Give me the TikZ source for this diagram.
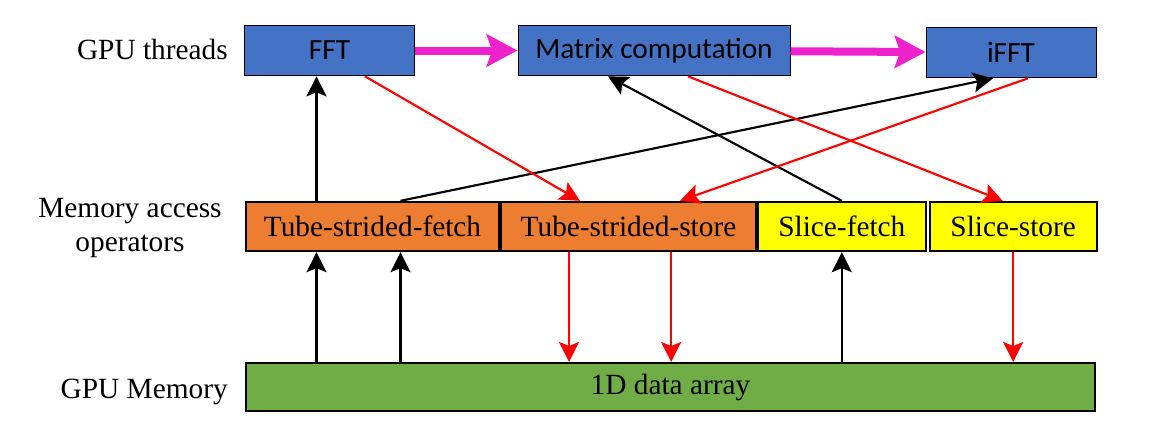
\documentclass[tikz,border=0pt]{standalone}
\usepackage{fontspec}
\setmainfont{Liberation Serif}
\newfontfamily\calibri{Carlito}
\usepackage{xcolor}
\usetikzlibrary{arrows.meta, positioning, calc}
\definecolor{thrblue}{HTML}{4472C4}
\definecolor{opsorange}{HTML}{ED7D31}
\definecolor{opsyellow}{HTML}{FFFF00}
\definecolor{memgreen}{HTML}{70AD47}
\definecolor{flowpink}{HTML}{EE22CC}

\begin{document}
\begin{tikzpicture}[x=0.75pt, y=-0.75pt,
    >={Stealth[length=15pt,width=15pt,inset=3pt]},
    thread/.style={draw, fill=thrblue, line width=0.75pt, minimum height=38pt, inner sep=0pt, font=\calibri\fontsize{22}{26}\selectfont},
    op/.style={draw, line width=1.5pt, minimum height=37pt, inner sep=0pt, font=\fontsize{22}{26}\selectfont},
    lbl/.style={inner sep=0pt, font=\fontsize{22}{26}\selectfont},
    fetch/.style={->, line width=1.6pt},
    store/.style={->, red, line width=1.6pt},
    flow/.style={-{Stealth[length=23pt,width=24pt,inset=4pt]}, flowpink, line width=6pt}]
    \useasboundingbox (0,0) rectangle (1158,439);
    \node[lbl, anchor=base east] (lthr) at (228,59) {GPU threads};
    \node[lbl, align=center] (lops) at (130,228) {Memory access\\operators};
    \node[lbl, anchor=base east] (lmem) at (228,398) {GPU Memory};
    \node[thread, minimum width=127pt] (fft) at (329.5,50.5) {FFT};
    \node[thread, minimum width=204pt] (mat) at (654,50.5) {Matrix computation};
    \node[thread, minimum width=127.5pt] (ifft) at (1011,52.5) {iFFT};
    \node[op, fill=opsorange, minimum width=190pt] (tsf) at (372.5,226.5) {Tube-strided-fetch};
    \node[op, fill=opsorange, minimum width=191pt, right=0pt of tsf] (tss) {Tube-strided-store};
    \node[op, fill=opsyellow, minimum width=126pt, right=0pt of tss] (sf) {Slice-fetch};
    \node[op, fill=opsyellow, minimum width=125pt, right=1.5pt of sf] (ss) {Slice-store};
    \node[op, fill=memgreen, minimum width=637pt, minimum height=36pt] (mem) at (670.5,387) {1D data array};
    \draw[flow] (fft) -- (mat);
    \draw[flow] (mat) -- (ifft);
    \draw[fetch] ([xshift=-42pt]tsf.north) -- ([xshift=-42pt]tsf.north |- fft.south);
    \draw[fetch] ([xshift=21pt]tsf.north) -- ([xshift=-13.5pt]ifft.south);
    \draw[fetch] (sf.north) -- ([xshift=-34.5pt]mat.south);
    \draw[store] ([xshift=26.6pt]fft.south) -- ([xshift=-36.4pt]tss.north);
    \draw[store] ([xshift=25.5pt]mat.south) -- ([xshift=-7.9pt]ss.north);
    \draw[store] ([xshift=12.75pt]ifft.south) -- ([xshift=38.6pt]tss.north);
    \draw[fetch] ([xshift=-42pt]tsf.south |- mem.north) -- ([xshift=-42pt]tsf.south);
    \draw[fetch] ([xshift=21pt]tsf.south |- mem.north) -- ([xshift=21pt]tsf.south);
    \draw[fetch] (sf.south |- mem.north) -- (sf.south);
    \draw[store] ([xshift=-44.6pt]tss.south) -- ([xshift=-44.6pt]tss.south |- mem.north);
    \draw[store] ([xshift=32pt]tss.south) -- ([xshift=32pt]tss.south |- mem.north);
    \draw[store] (ss.south) -- (ss.south |- mem.north);
\end{tikzpicture}
\end{document}
